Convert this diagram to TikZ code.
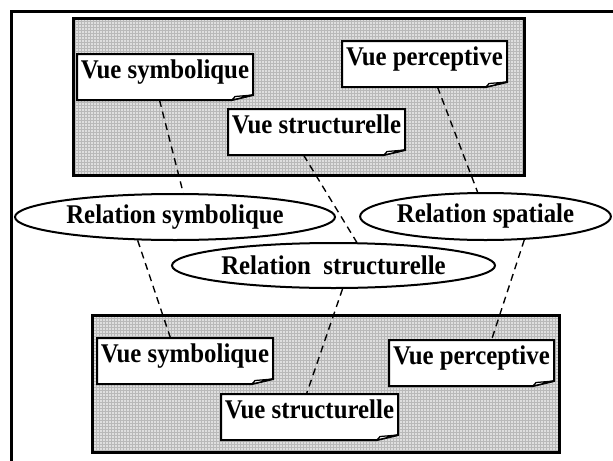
\documentclass[tikz,border=0pt]{standalone}
\usepackage{fontspec}
\setmainfont{Liberation Serif}[FakeStretch=0.92]
\usetikzlibrary{shapes.geometric}
\pgfdeclarelayer{boxes}
\pgfdeclarelayer{notes}
\pgfsetlayers{boxes,notes,main}
\newcommand{\notefold}[1]{%
 \begin{pgfonlayer}{notes}
 \draw[noteline,fill=white] (#1.north west)--(#1.north east)--([yshift=2pt]#1.south east)--([xshift=-8.4pt]#1.south east)--(#1.south west)--cycle;
 \draw[noteline,line width=0.5pt,fill=white] ([xshift=-8.4pt]#1.south east)--([xshift=-7.2pt,yshift=1.4pt]#1.south east)--([yshift=2pt]#1.south east)--cycle;
 \end{pgfonlayer}}
\begin{document}
\begin{tikzpicture}[x=0.4pt,y=-0.4pt,
 txt/.style={font=\fontsize{10.8}{13}\selectfont\bfseries},
 vue/.style={txt,anchor=north west,inner sep=0pt,minimum width=#1,text height=9.6pt,text depth=8.4pt},
 noteline/.style={line width=0.8pt,line join=miter},
 rel/.style={txt,ellipse,draw,fill=white,line width=0.8pt,inner sep=0pt,minimum width=#1},
 link/.style={dashed,dash pattern=on 2.8pt off 2pt,line width=0.55pt},
 viewbox/.style={line width=1.2pt}]
 \clip (0,0) rectangle (613,460);
 \draw[line width=1.2pt] (11,470) -- (11,11) -- (630,11);
 \begin{pgfonlayer}{boxes}
 \fill[gray!25] (73,18) rectangle (524,175);
 \draw[step=1.2pt,gray!55,line width=0.15pt] (73,18) grid (524,175);
 \draw[viewbox] (73,18) rectangle (524,175);
 \fill[gray!25] (92,315) rectangle (559,452);
 \draw[step=1.2pt,gray!55,line width=0.15pt] (92,315) grid (559,452);
 \draw[viewbox] (92,315) rectangle (559,452);
 \end{pgfonlayer}
 \node[vue=70pt] (vsymH) at (77,54) {Vue symbolique};
 \node[vue=70.4pt] (vstrH) at (228,109) {Vue structurelle};
 \node[vue=65.6pt] (vperH) at (342,41) {Vue perceptive};
 \node[vue=70pt] (vsymL) at (97,338) {Vue symbolique};
 \node[vue=70.4pt] (vstrL) at (221,394) {Vue structurelle};
 \node[vue=65.6pt] (vperL) at (389,340) {Vue perceptive};
 \notefold{vsymH}
 \notefold{vstrH}
 \notefold{vperH}
 \notefold{vsymL}
 \notefold{vstrL}
 \notefold{vperL}
 \node[rel=128pt,minimum height=18.4pt] (relSym) at (175,217) {Relation symbolique};
 \node[rel=129.2pt,minimum height=18pt] (relStr) at (333.5,265.5) {Relation~~structurelle};
 \node[rel=98pt,minimum height=18.8pt] (relSpa) at (485.5,216.5) {Relation spatiale};
 \draw[link] ([xshift=-2.2pt]vsymH.south) -- (relSym.71);
 \draw[link] ([xshift=-5.2pt]vstrH.south) -- (relStr.45);
 \draw[link] ([xshift=5.2pt]vperH.south) -- (relSpa.108);
 \draw[link] (relSym.212) -- ([xshift=-5.8pt]vsymL.north);
 \draw[link] (relStr.291) -- ([xshift=-1.2pt]vstrL.north);
 \draw[link] (relSpa.329) -- ([xshift=8pt]vperL.north);
\end{tikzpicture}
\end{document}
